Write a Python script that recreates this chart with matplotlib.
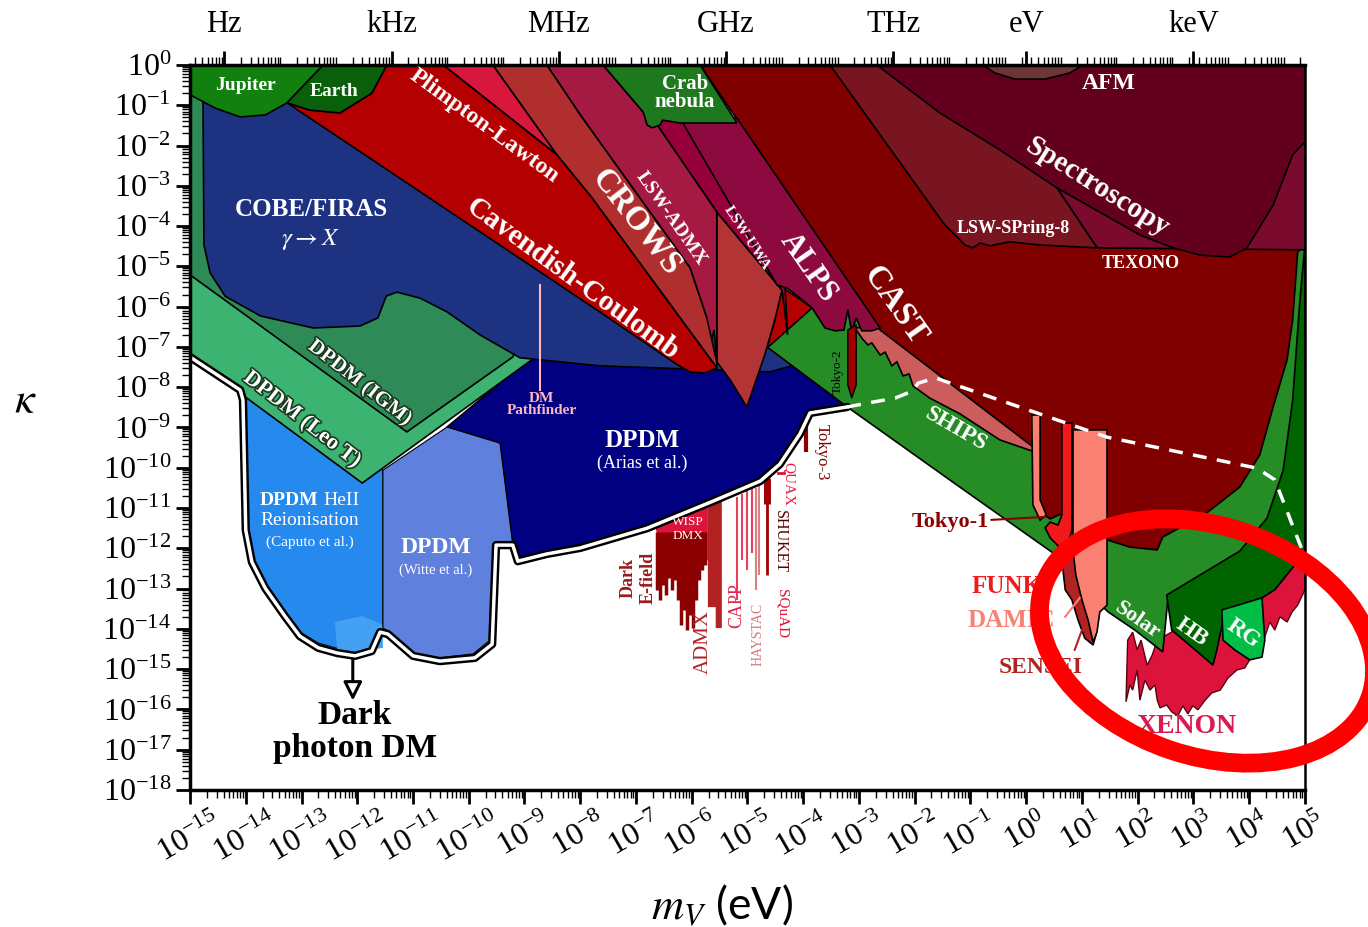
import numpy as np
import matplotlib
matplotlib.use("Agg")
import matplotlib.pyplot as plt
import matplotlib.patheffects as pe
from matplotlib.patches import Ellipse
from matplotlib.ticker import LogLocator, NullFormatter

plt.rcParams["font.family"] = "serif"
plt.rcParams["font.serif"] = ["Liberation Serif", "DejaVu Serif"]
plt.rcParams["mathtext.fontset"] = "stix"

# every boundary is a list of (log10 m_V/eV, log10 kappa)
arias = [(-10.39, -8.99), (-8.90, -7.27), (-5.85, -7.20), (-4.24, -7.20), (-3.34, -8.19),
         (-3.21, -8.49), (-3.88, -8.64), (-4.06, -9.16), (-4.42, -9.91), (-4.77, -10.33),
         (-5.62, -10.83), (-6.80, -11.50), (-8.00, -11.99), (-8.60, -12.14), (-9.12, -12.32),
         (-9.21, -11.92), (-9.44, -9.39)]
caputo = [(-14.01, -8.19), (-11.54, -10.06), (-11.54, -13.98), (-11.68, -14.47), (-12.04, -14.60),
          (-12.40, -14.47), (-12.70, -14.35), (-13.03, -14.08), (-13.30, -13.61), (-13.65, -12.91),
          (-13.89, -12.29), (-14.00, -11.55)]
caputo_low = [(-12.40, -13.83), (-11.91, -13.68), (-11.54, -13.90), (-11.54, -14.47),
              (-11.95, -14.57), (-12.36, -14.52)]
witte = [(-11.54, -10.06), (-10.39, -8.99), (-9.44, -9.39), (-9.21, -11.92), (-9.53, -11.92),
         (-9.62, -14.28), (-9.92, -14.62), (-10.52, -14.72), (-11.00, -14.60), (-11.47, -14.03),
         (-11.54, -13.98)]
leo_t = [(-15.0, -4.84), (-8.72, -6.58), (-8.87, -7.32), (-11.91, -10.38), (-14.01, -8.24),
         (-15.0, -7.25)]
igm = [(-15.0, -0.62), (-13.74, -0.62), (-9.08, -6.83), (-9.21, -7.25), (-11.11, -9.11),
       (-15.0, -5.21)]
cobe = [(-14.77, -0.37), (-10.87, -0.37), (-5.85, -5.83), (-4.15, -7.45), (-4.60, -7.62),
        (-7.64, -7.47), (-9.08, -7.27), (-9.80, -6.70), (-10.39, -6.13), (-10.87, -5.79),
        (-11.29, -5.64), (-11.48, -5.74), (-11.63, -6.28), (-11.95, -6.48), (-12.79, -6.53),
        (-13.74, -6.23), (-14.37, -5.74), (-14.64, -5.16), (-14.75, -4.47)]

xenon = [(1.79, -15.81), (1.82, -14.28), (1.91, -14.08), (1.99, -14.52), (2.06, -14.28),
         (2.17, -14.90), (2.26, -14.65), (2.35, -14.28), (4.91, -12.29), (5.0, -11.92),
         (5.0, -13.03), (4.87, -13.41), (4.77, -13.58), (4.68, -13.83), (4.55, -13.70),
         (4.46, -14.03), (4.37, -13.83), (4.28, -14.20), (4.16, -14.40), (4.01, -14.77),
         (3.92, -14.97), (3.78, -15.02), (3.62, -15.22), (3.48, -15.52), (3.33, -15.59),
         (3.21, -15.77), (3.08, -16.01), (2.99, -15.91), (2.90, -16.11), (2.81, -15.91),
         (2.72, -16.16), (2.61, -16.06), (2.52, -15.89), (2.40, -15.96), (2.35, -15.77),
         (2.31, -15.39), (2.22, -15.52), (2.13, -15.27), (2.04, -15.77), (1.99, -15.02),
         (1.91, -15.52), (1.86, -15.39)]
solar_ships = [(-4.65, -7.00), (-3.21, -8.49), (-1.19, -10.48), (0.66, -12.29), (0.96, -12.91),
               (1.47, -13.58), (1.95, -14.03), (2.45, -14.57), (2.54, -13.28), (4.60, -12.60),
               (5.0, -11.90), (5.0, -4.35), (-2.62, -5.83), (-4.06, -5.83)]
hb = [(2.52, -13.16), (3.24, -12.56), (3.83, -12.07), (4.32, -11.25), (4.61, -10.06),
      (4.78, -8.32), (4.91, -5.83), (5.0, -4.47), (5.0, -12.29), (4.82, -12.41), (4.46, -13.03),
      (4.23, -13.23), (3.57, -13.53), (3.42, -14.52), (3.35, -14.90), (3.03, -14.52),
      (2.61, -14.03)]
rg = [(3.51, -13.53), (4.23, -13.23), (4.28, -14.28), (4.23, -14.70), (4.01, -14.77),
      (3.74, -14.52), (3.53, -14.28)]

cast_low = [(-3.07, -6.53), (-2.62, -6.48), (0.12, -9.31), (0.16, -9.61), (-0.47, -9.31),
            (-1.19, -8.66), (-1.73, -8.27), (-2.03, -7.97), (-2.10, -7.67), (-2.21, -7.72),
            (-2.32, -7.37), (-2.41, -7.47), (-2.53, -7.13), (-2.62, -7.20), (-2.77, -6.90),
            (-2.84, -6.95), (-2.95, -6.78)]
cast = [(-5.85, 0.0), (5.0, 0.0), (5.0, -4.47), (4.87, -4.64), (4.78, -6.33), (4.68, -7.32),
        (4.43, -8.49), (4.19, -9.68), (3.83, -10.48), (3.24, -11.12), (2.45, -11.72),
        (2.35, -12.04), (1.86, -11.97), (1.45, -11.79), (0.84, -10.92), (0.70, -11.10),
        (0.43, -11.27), (0.25, -11.10), (0.16, -10.80), (0.12, -9.48), (-2.62, -6.58)]
texono = [(0.55, -3.05), (1.27, -4.54), (5.0, -4.59), (5.0, -1.37), (2.22, -1.37)]
spring8 = [(-3.52, 0.0), (-0.47, 0.0), (0.55, -3.05), (1.27, -4.54), (0.25, -4.47),
           (-0.29, -4.39), (-0.65, -4.49), (-0.83, -4.42), (-0.96, -4.54), (-1.10, -4.47),
           (-1.24, -4.27), (-1.46, -3.97)]
spectroscopy = [(-2.68, 0.0), (5.0, 0.0), (5.0, -1.91), (4.78, -2.23), (4.43, -3.48),
                (3.96, -4.54), (3.65, -4.77), (3.12, -4.72), (2.63, -4.54), (2.04, -4.22),
                (0.55, -3.05), (-0.47, -2.11), (-1.55, -1.19)]
afm = [(-0.78, 0.0), (1.02, 0.0), (0.78, -0.20), (0.34, -0.35), (-0.20, -0.35), (-0.56, -0.20)]

tokyo1 = [(0.10, -8.69), (0.25, -8.69), (0.25, -10.80), (0.36, -11.17), (0.25, -11.30),
          (0.12, -10.92)]
funk = [(0.64, -8.89), (0.82, -8.89), (0.82, -11.54), (0.75, -11.92), (0.61, -11.99),
        (0.43, -11.74), (0.34, -11.49), (0.43, -11.35), (0.57, -11.42), (0.64, -11.17)]
sensei = [(0.66, -11.99), (0.84, -11.92), (0.93, -12.54), (1.05, -13.03), (1.14, -13.58),
          (1.25, -14.15), (1.20, -14.40), (1.05, -14.23), (0.93, -13.78), (0.82, -13.28),
          (0.70, -13.03), (0.66, -12.54)]
damic = [(0.84, -9.06), (1.45, -9.06), (1.45, -13.41), (1.32, -13.58), (1.27, -14.08),
         (1.20, -14.33), (1.11, -13.78), (1.00, -13.28), (0.89, -12.66), (0.84, -12.04)]
tokyo2 = [(-3.20, -6.58), (-3.05, -6.45), (-3.05, -7.94), (-3.13, -8.27), (-3.20, -7.94)]

red_sliver = [(-4.38, -5.51), (-3.84, -6.03), (-4.65, -7.03), (-4.51, -6.33)]
lsw_triangle = [(-5.55, -3.65), (-4.38, -5.59), (-4.51, -6.33), (-4.69, -7.20), (-5.01, -8.49),
                (-5.31, -7.82), (-5.55, -7.37)]
lsw_uwa = [(-6.75, -1.32), (-6.03, -1.32), (-4.47, -5.46), (-4.33, -5.41), (-4.28, -6.70),
           (-4.38, -5.59), (-5.55, -3.65), (-6.62, -1.49)]
alps = [(-6.21, -1.32), (-5.19, -1.32), (-2.62, -6.53), (-2.77, -6.60), (-2.95, -6.60),
        (-3.05, -6.28), (-3.13, -6.63), (-3.20, -6.08), (-3.27, -6.58), (-3.43, -6.60),
        (-3.61, -6.53), (-3.84, -6.03), (-4.06, -5.78), (-4.29, -5.54), (-4.47, -5.46)]
lsw_admx = [(-8.60, 0.0), (-7.59, 0.0), (-6.87, -1.17), (-6.62, -1.49), (-5.55, -3.65),
            (-5.55, -7.37), (-5.60, -6.58), (-5.67, -6.95), (-5.73, -6.28), (-6.03, -5.04),
            (-8.00, -1.24)]
crab = [(-7.59, 0.0), (-5.85, 0.0), (-5.19, -1.44), (-6.21, -1.44), (-6.52, -1.37),
        (-6.57, -1.49), (-6.71, -1.56), (-6.80, -1.49), (-6.87, -1.17)]
crows = [(-9.57, 0.0), (-8.60, 0.0), (-8.00, -1.24), (-6.03, -5.04), (-5.73, -6.28),
         (-5.55, -7.37), (-5.55, -7.52), (-7.79, -3.30), (-8.42, -2.23)]
plimpton = [(-10.46, 0.0), (-9.57, 0.0), (-8.42, -2.23)]
cavendish = [(-11.47, 0.0), (-10.46, 0.0), (-8.42, -2.23), (-7.79, -3.30), (-5.55, -7.52),
             (-5.76, -7.65), (-6.03, -7.62), (-6.25, -7.45), (-7.65, -6.13), (-13.26, -0.94),
             (-12.85, -1.12), (-12.31, -1.19), (-11.74, -0.70)]
jupiter = [(-15.0, 0.0), (-12.61, 0.0), (-13.26, -0.94), (-13.65, -1.24), (-14.10, -1.29),
           (-14.55, -1.07), (-15.0, -0.74)]
earth = [(-12.61, 0.0), (-11.47, 0.0), (-11.74, -0.70), (-12.31, -1.19), (-12.85, -1.12),
         (-13.26, -0.94)]

wisp_dmx = [(-6.66, -11.42), (-5.71, -10.87), (-5.71, -12.29), (-5.85, -12.41), (-6.03, -12.16),
            (-6.21, -12.29), (-6.39, -12.09), (-6.57, -11.99)]
admx = [(-5.71, -10.87), (-5.46, -10.75), (-5.46, -13.98), (-5.57, -13.98), (-5.57, -13.46),
        (-5.71, -13.46)]
efield_m = [-6.62, -6.57, -6.52, -6.46, -6.41, -6.35, -6.30, -6.25, -6.19, -6.14, -6.09,
            -6.03, -5.98, -5.92, -5.87, -5.81, -5.76]
efield_lo = [-13.03, -13.28, -12.91, -13.16, -12.74, -13.03, -12.79, -13.28, -13.90, -13.53,
             -14.03, -13.65, -13.98, -13.28, -12.79, -12.54, -12.41]
capp_m = [-5.19, -5.10, -5.01, -4.92]
capp_hi = [-10.73, -10.65, -10.58, -10.53]
capp_lo = [-13.28, -12.29, -12.54, -12.12]
haystac_m = [-4.85, -4.79]
haystac_hi = [-10.50, -10.45]
haystac_lo = [-13.03, -12.66]
shuket_m, shuket_hi, shuket_lo = -4.65, -10.25, -12.66
quax_m, quax_k = [-4.45, -4.35], -10.13
tokyo3_m, tokyo3_hi, tokyo3_lo = -3.95, -8.76, -9.61

# combined dark photon dark matter limit and its stellar continuation
dpdm_limit = [(-15.0, -7.25), (-14.10, -8.07), (-14.05, -8.32), (-14.00, -11.55),
              (-13.89, -12.34), (-13.65, -12.99), (-13.30, -13.68), (-13.03, -14.18),
              (-12.70, -14.47), (-12.36, -14.60), (-12.04, -14.67), (-11.74, -14.55),
              (-11.59, -14.08), (-11.45, -14.13), (-11.00, -14.67), (-10.52, -14.80),
              (-9.89, -14.72), (-9.58, -14.38), (-9.51, -11.92), (-9.21, -11.92),
              (-9.12, -12.32), (-8.60, -12.14), (-8.00, -11.99), (-6.80, -11.50),
              (-5.62, -10.83), (-4.77, -10.33), (-4.42, -9.91), (-4.06, -9.16),
              (-3.88, -8.64), (-3.21, -8.49)]
dpdm_stellar = [(-3.21, -8.49), (-2.75, -8.37), (-2.35, -8.27), (-2.03, -8.09), (-1.94, -7.90),
                (-1.63, -7.77), (1.45, -9.24), (4.14, -10.01), (4.46, -10.30), (5.0, -12.22)]

freq_ticks = [1.0, 1e3, 1e6, 1e9, 1e12, 2.418e14, 2.418e17]
freq_labels = ["Hz", "kHz", "MHz", "GHz", "THz", "eV", "keV"]
h_ev = 4.135667e-15

fig = plt.figure(figsize=(13.68, 9.27), dpi=100)
ax = fig.add_axes([0.1389, 0.1478, 0.8150, 0.7821])
ax.set_xscale("log")
ax.set_yscale("log")
ax.set_xlim(1e-15, 1e5)
ax.set_ylim(1e-18, 1)


def region(pts, color, ec="black", lw=1.2):
    p = np.array(pts)
    ax.fill(10 ** p[:, 0], 10 ** p[:, 1], facecolor=color, edgecolor=ec, linewidth=lw)


region(arias, "#000080")
region(caputo, "#2589ee", lw=0.8)
region(caputo_low, "#43a0f2", ec="none")
region(witte, "#5f80dc", lw=0.8)
region(leo_t, "#3cb371")
region(igm, "#2e8b57")
region(cobe, "#1e3282")
region(xenon, "#dc143c", ec="#5a0010", lw=1.0)
region(solar_ships, "#268c26")
region(hb, "#006400")
region(rg, "#00bd45")
region(cast_low, "#cd5c5c")
region(cast, "#800000")
region(texono, "#7a0a2e")
region(spring8, "#781520")
region(spectroscopy, "#62001e")
region(afm, "#6e3535")
region(tokyo1, "#fa8072")
region(funk, "#f01818")
region(sensei, "#b22222")
region(damic, "#fa8072")
region(red_sliver, "#b40000")
region(lsw_triangle, "#b23434")
region(lsw_uwa, "#98003c")
region(alps, "#8c0a40")
region(lsw_admx, "#a51a42")
region(crab, "#1e781e")
region(crows, "#b02e2e")
region(plimpton, "#d8173d")
region(cavendish, "#b40000")
region(jupiter, "#11800f")
region(earth, "#0a600a")
region(tokyo2, "#a00000", lw=1.0)

# haloscopes below the limit
ax.vlines(10 ** np.array(efield_m), 10 ** -11.6, 10 ** np.array(efield_lo), color="#8b0000", lw=2.5)
region(wisp_dmx, "#dc143c", ec="none")
region(admx, "#b22222", ec="none")
ax.vlines(10 ** np.array(capp_m), 10 ** np.array(capp_hi), 10 ** np.array(capp_lo), color="#e8405a", lw=1.5)
ax.vlines(10 ** np.array(haystac_m), 10 ** np.array(haystac_hi), 10 ** np.array(haystac_lo), color="#d98080", lw=1.5)
ax.vlines(10 ** shuket_m, 10 ** shuket_hi, 10 ** shuket_lo, color="#a00000", lw=2)
ax.vlines(10 ** shuket_m, 10 ** shuket_hi, 10 ** -10.9, color="#a00000", lw=5)
ax.plot(10 ** np.array(quax_m), [10 ** quax_k] * 2, color="#dc143c", lw=2)
ax.vlines(10 ** tokyo3_m, 10 ** tokyo3_hi, 10 ** tokyo3_lo, color="#8b0000", lw=3)

# DM Pathfinder marker
ax.plot([10 ** -8.72] * 2, [10 ** -5.46, 10 ** -8.07], color="#ffb6c1", lw=1.5)

lim = np.array(dpdm_limit)
ax.plot(10 ** lim[:, 0], 10 ** lim[:, 1], color="black", lw=6, solid_joinstyle="round", solid_capstyle="round")
ax.plot(10 ** lim[:, 0], 10 ** lim[:, 1], color="white", lw=2.5, solid_joinstyle="round")
st = np.array(dpdm_stellar)
ax.plot(10 ** st[:, 0], 10 ** st[:, 1], color="white", lw=2.5, ls=(0, (4, 3)))

ax.annotate("", xy=(10 ** -12.08, 10 ** -15.85), xytext=(10 ** -12.08, 10 ** -14.68),
            arrowprops=dict(arrowstyle="-|>", lw=2.2, color="black", fc="white", mutation_scale=28))


def label(x, y, s, size, color="white", rot=0, weight="bold", **kw):
    ax.text(10 ** x, 10 ** y, s, fontsize=size, color=color, rotation=rot, fontweight=weight,
            ha=kw.pop("ha", "center"), va="center", rotation_mode="anchor", **kw)


shadow = [pe.withStroke(linewidth=2.5, foreground="#1b3d22")]
label(-14.00, -0.50, "Jupiter", 14)
label(-12.42, -0.65, "Earth", 14)
label(-9.73, -1.51, "Plimpton-Lawton", 17, rot=-36)
label(-8.13, -5.31, "Cavendish-Coulomb", 21, rot=-36)
label(-7.00, -3.90, "CROWS", 24, rot=-52)
label(-6.37, -3.80, "LSW-ADMX", 14, rot=-55)
label(-5.01, -4.29, "LSW-UWA", 11, rot=-57)
label(-3.91, -5.04, "ALPS", 22, rot=-55)
label(-2.35, -5.98, "CAST", 24, rot=-55)
label(-6.12, -0.70, "Crab\nnebula", 15, linespacing=0.9)
label(-12.83, -3.60, "COBE/FIRAS", 18)
label(-12.83, -4.34, r"$\gamma \rightarrow X$", 18, weight="normal")
label(-11.95, -7.89, "DPDM (IGM)", 15, rot=-38, path_effects=shadow)
label(-12.99, -8.81, "DPDM (Leo T)", 16, rot=-38, path_effects=shadow)
label(-8.69, -8.44, "DM\nPathfinder", 11, color="#ffb6c1", linespacing=0.9)
label(-6.89, -9.33, "DPDM", 18)
label(-6.89, -9.88, "(Arias et al.)", 13, weight="normal")
label(-12.70, -10.82, "DPDM", 14, ha="right")
label(-12.61, -10.82, "HeII", 14, weight="normal", ha="left")
label(-12.85, -11.30, "Reionisation", 14, weight="normal")
label(-12.85, -11.84, "(Caputo et al.)", 11, weight="normal")
label(-10.59, -11.99, "DPDM", 17)
label(-10.59, -12.54, "(Witte et al.)", 10.5, weight="normal")
label(-0.24, -4.05, "LSW-SPring-8", 13)
label(2.06, -4.94, "TEXONO", 13)
label(1.27, -3.03, "Spectroscopy", 21, rot=-32)
label(1.47, -0.45, "AFM", 17)
label(-1.26, -9.04, "SHIPS", 17, rot=-30)
label(2.00, -13.78, "Solar", 16, rot=-35)
label(2.97, -14.08, "HB", 17, rot=-35)
label(3.89, -14.13, "RG", 17, rot=-35)
label(2.88, -16.43, "XENON", 20, color="#d81b50")
label(-6.07, -11.35, "WISP", 9.5, weight="normal")
label(-6.07, -11.70, "DMX", 9.5, weight="normal")
label(-7.14, -12.74, "Dark", 13, color="#9b1b1b", rot=90)
label(-6.79, -12.74, "E-field", 13, color="#9b1b1b", rot=90)
label(-5.80, -14.33, "ADMX", 15, color="#b22222", rot=90, weight="normal")
label(-5.19, -13.43, "CAPP", 13, color="#e0284a", rot=90, weight="normal")
label(-4.81, -14.13, "HAYSTAC", 10, color="#d07878", rot=90, weight="normal")
label(-4.42, -11.84, "SHUKET", 11.5, color="#5a0000", rot=-90, weight="normal")
label(-4.38, -13.63, "SQuAD", 11, color="#dc143c", rot=-90, weight="normal")
label(-4.27, -10.40, "QUAX", 11, color="#e8203c", rot=-90, weight="normal")
label(-3.66, -9.61, "Tokyo-3", 12, color="#800000", rot=-90, weight="normal")
label(-3.38, -7.62, "Tokyo-2", 9.5, color="black", rot=90, weight="normal")
label(-0.35, -12.96, "FUNK", 18, color="#ee1c1c")
label(-0.26, -13.78, "DAMIC", 18, color="#fa8072")
label(0.25, -14.95, "SENSEI", 17, color="#b22222")
label(-12.04, -16.16, "Dark", 24, color="black")
label(-12.04, -16.96, "photon DM", 24, color="black")

ax.annotate("Tokyo-1", xy=(10 ** 0.34, 10 ** -11.22), xytext=(10 ** -1.37, 10 ** -11.35),
            fontsize=16, fontweight="bold", color="#8b0000", ha="center", va="center",
            arrowprops=dict(arrowstyle="-", color="#8b0000", lw=1.5, shrinkA=0, shrinkB=0))
ax.plot([10 ** 0.70, 10 ** 0.96], [10 ** -13.70, 10 ** -13.23], color="#fa8072", lw=1.5)
ax.plot([10 ** 0.87, 10 ** 1.00], [10 ** -14.52, 10 ** -14.03], color="#b22222", lw=1.5)

# axes styling
for side in ["left", "bottom", "top"]:
    ax.spines[side].set_linewidth(2.5)
ax.spines["right"].set_linewidth(1.8)
ax.xaxis.set_major_locator(LogLocator(base=10, numticks=40))
ax.yaxis.set_major_locator(LogLocator(base=10, numticks=40))
ax.xaxis.set_minor_locator(LogLocator(base=10, subs=np.arange(2, 10), numticks=400))
ax.yaxis.set_minor_locator(LogLocator(base=10, subs=np.arange(2, 10), numticks=400))
ax.xaxis.set_minor_formatter(NullFormatter())
ax.yaxis.set_minor_formatter(NullFormatter())
ax.tick_params(which="major", direction="out", length=10, width=2, labelsize=23,
               top=False, right=False)
ax.tick_params(which="minor", direction="out", length=6, width=1, top=False, right=False)
ax.tick_params(axis="x", labelrotation=30)

top = ax.secondary_xaxis("top", functions=(lambda m: m / h_ev, lambda f: f * h_ev))
top.set_xticks(freq_ticks, labels=freq_labels)
top.xaxis.set_minor_locator(LogLocator(base=10, subs=np.arange(1, 10), numticks=400))
top.xaxis.set_minor_formatter(NullFormatter())
top.tick_params(which="major", direction="out", length=10, width=2, labelsize=22, pad=9)
top.tick_params(which="minor", direction="out", length=6, width=1)

fig.text(25 / 1368, 1 - 402 / 927, r"$\kappa$", fontsize=32, ha="center", va="center")
fig.text(722 / 1368, 1 - 905 / 927, r"$m_V$ (eV)", fontsize=32, family="Lato",
         ha="center", va="center")

ring = Ellipse((12.07, 2.86), 3.45, 2.30, angle=-18.7, fill=False, edgecolor="#ff0000",
               linewidth=13.5, transform=fig.dpi_scale_trans)
fig.add_artist(ring)

fig.savefig("out.png", dpi=100, facecolor="white")
